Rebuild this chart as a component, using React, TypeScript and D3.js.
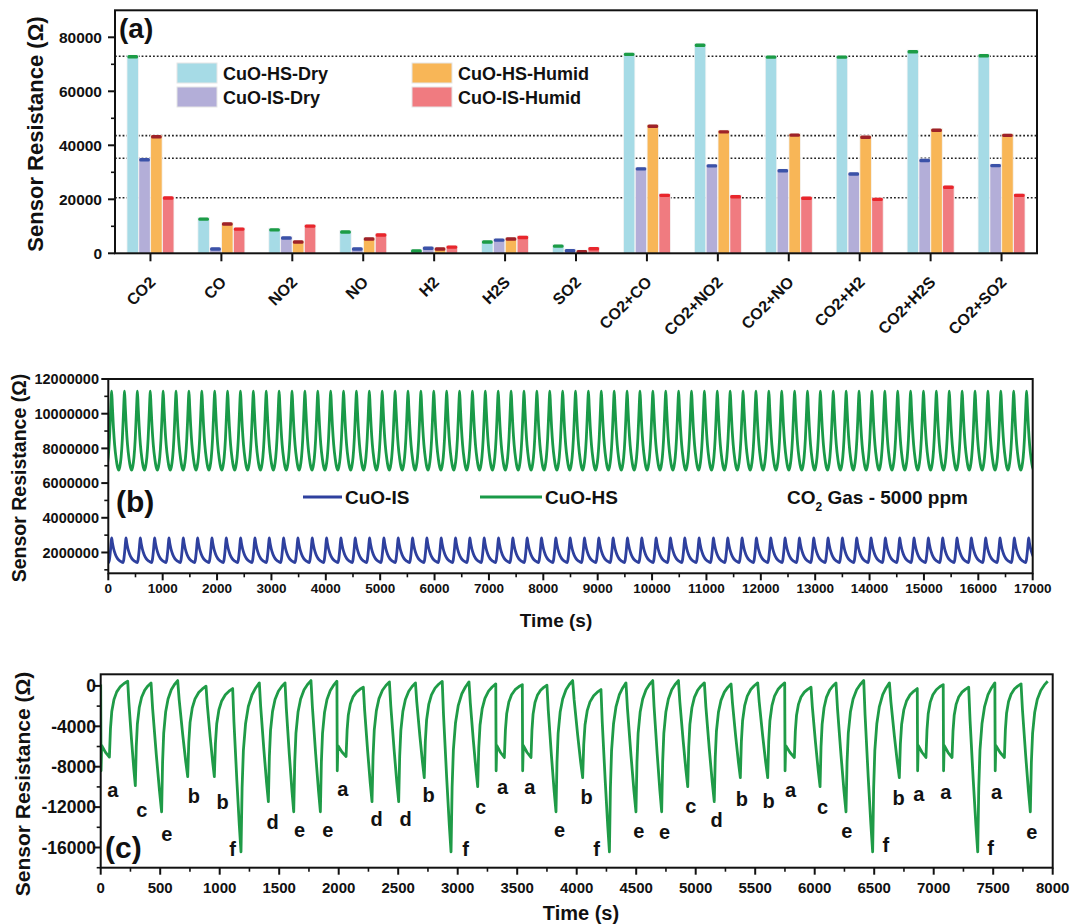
import React from 'react';
import * as d3 from 'd3';

const FONT = "'Liberation Sans', Arial, Helvetica, sans-serif";

// ---------------- Panel (a) data ----------------
const gases = ['CO2', 'CO', 'NO2', 'NO', 'H2', 'H2S', 'SO2', 'CO2+CO', 'CO2+NO2', 'CO2+NO', 'CO2+H2', 'CO2+H2S', 'CO2+SO2'];
const seriesNames = ['CuO-HS-Dry', 'CuO-IS-Dry', 'CuO-HS-Humid', 'CuO-IS-Humid'];
const hsDry = [73400, 13300, 9300, 8500, 1500, 4800, 3300, 74300, 77700, 73300, 73300, 75300, 73800];
const isDry = [35300, 2200, 6300, 2200, 2500, 5500, 1600, 31900, 33000, 31200, 30000, 35000, 33100];
const hsHumid = [43800, 11500, 4800, 5900, 2200, 5900, 1200, 47700, 45600, 44400, 43600, 46200, 44300];
const isHumid = [21100, 9600, 10700, 7400, 2900, 6500, 2300, 22100, 21600, 21000, 20600, 25100, 22100];
const refLevels = [73000, 43600, 35200, 20600];
const aYTicks = [0, 20000, 40000, 60000, 80000];
const aYMinor = [10000, 30000, 50000, 70000];

const barColors = ['#A6DBE6', '#B3AED8', '#F8B657', '#F07B80'];
const capColors = ['#1C9C46', '#3B52A8', '#9E2229', '#E8262C'];

// ---------------- Panel (b) data ----------------
const bXTicks = [0, 1000, 2000, 3000, 4000, 5000, 6000, 7000, 8000, 9000, 10000, 11000, 12000, 13000, 14000, 15000, 16000, 17000];
const bYTicks = [2000000, 4000000, 6000000, 8000000, 10000000, 12000000];
// CuO-HS (green) and CuO-IS (blue) cyclic responses, CO2 5000 ppm
const hsLow = 6750000;
const hsHigh = 11300000;
const isLow = 1420000;
const isHigh = 2840000;
const hsFirstPeak = 62;
const hsPeriod = 237;
const isFirstPeak = 62;
const isPeriod = 263.5;
// one response cycle: [phase, normalised level]
const hsCycleShape = [[0, 0], [0.08, 0.04], [0.18, 0.16], [0.28, 0.4], [0.36, 0.7], [0.42, 0.93], [0.45, 1], [0.5, 0.82], [0.58, 0.56], [0.68, 0.32], [0.8, 0.14], [0.9, 0.04], [1, 0]];
const isCycleShape = [[0, 0], [0.05, 0.1], [0.12, 0.45], [0.18, 0.85], [0.21, 1], [0.26, 0.8], [0.35, 0.55], [0.47, 0.33], [0.62, 0.16], [0.8, 0.06], [1, 0]];

// ---------------- Panel (c) data ----------------
const cXTicks = [0, 500, 1000, 1500, 2000, 2500, 3000, 3500, 4000, 4500, 5000, 5500, 6000, 6500, 7000, 7500, 8000];
const cYTicks = [0, -4000, -8000, -12000, -16000];
const cTypes = ['a', 'c', 'e', 'b', 'b', 'f', 'd', 'e', 'e', 'a', 'd', 'd', 'b', 'f', 'c', 'a', 'a', 'e', 'b', 'f', 'e', 'e', 'c', 'd', 'b', 'b', 'a', 'c', 'e', 'f', 'b', 'a', 'a', 'f', 'a', 'e'];
const cStart = [0, 227, 423, 647, 885, 1109, 1333, 1549, 1767, 1985, 2207, 2426, 2645, 2870, 3095, 3320, 3543, 3750, 3966, 4204, 4414, 4639, 4855, 5073, 5297, 5521, 5748, 5969, 6179, 6412, 6628, 6862, 7080, 7294, 7514, 7734];
const cMinTime = [73, 291, 512, 731, 955, 1179, 1409, 1622, 1846, 2062, 2280, 2504, 2719, 2944, 3168, 3392, 3616, 3826, 4050, 4275, 4498, 4714, 4933, 5156, 5375, 5605, 5829, 6045, 6263, 6487, 6711, 6935, 7154, 7370, 7594, 7812];
const cMin = [-7050, -9870, -12460, -8980, -8980, -16430, -11460, -12460, -12460, -6990, -11460, -11460, -9080, -16430, -9970, -7090, -7090, -12460, -9080, -16430, -12460, -12460, -9970, -11460, -9080, -9080, -7090, -9970, -12460, -16430, -9080, -7090, -7090, -16430, -7090, -12460];
const cEndPeak = [460, 300, 530, -30, -265, 300, 300, 530, 460, -130, 400, 300, 450, 400, 200, 130, 70, 530, -360, 300, 530, 530, 300, 200, 300, 300, -130, 300, 530, 300, -265, 130, -130, 300, 200, 460];
const cStartValue = 130;
const cEndTime = 7958;
const aSpikeValue = -8400;
const aReboundValue = -5900;
const fallShape = [[0, 0], [0.15, 0.2], [0.5, 0.56], [0.8, 0.84], [1, 1]];
const riseShape = [[0, 0], [0.06, 0.38], [0.13, 0.6], [0.25, 0.76], [0.4, 0.86], [0.6, 0.93], [0.8, 0.97], [1, 1]];
const cLabelT = [101, 345, 555, 782, 1025, 1109, 1445, 1672, 1908, 2034, 2319, 2563, 2756, 3067, 3193, 3378, 3605, 3857, 4084, 4168, 4521, 4739, 4958, 5176, 5387, 5613, 5798, 6067, 6269, 6597, 6706, 6874, 7101, 7479, 7529, 7824];
const cLabelV = [-10335, -12224, -14609, -10832, -11429, -16100, -13416, -14211, -14211, -10236, -13118, -13118, -10733, -16100, -11926, -10037, -10037, -14211, -10932, -16100, -14311, -14410, -11826, -13217, -11131, -11330, -10335, -11926, -14311, -15702, -11031, -10634, -10534, -16000, -10534, -14410];

function buildCycles(shape: number[][], first: number, period: number, lo: number, hi: number, t0: number, t1: number) {
  let peakPhase = 0;
  let best = -1;
  shape.forEach(([p, l]) => { if (l > best) { best = l; peakPhase = p; } });
  const pts: [number, number][] = [];
  const kStart = Math.floor((t0 - first) / period) - 1;
  const kEnd = Math.ceil((t1 - first) / period) + 1;
  for (let k = kStart; k <= kEnd; k++) {
    const base = first + k * period - peakPhase * period;
    shape.forEach(([p, l], j) => {
      if (j === 0 && k !== kStart) return;
      pts.push([base + p * period, lo + l * (hi - lo)]);
    });
  }
  return pts;
}

function buildC() {
  const pts: [number, number][] = [];
  for (let i = 0; i < cTypes.length; i++) {
    const t0 = cStart[i];
    const p0 = i === 0 ? cStartValue : cEndPeak[i - 1];
    const tm = cMinTime[i];
    const vm = cMin[i];
    const tEnd = i < cTypes.length - 1 ? cStart[i + 1] : cEndTime;
    const pEnd = cEndPeak[i];
    pts.push([t0, p0]);
    if (cTypes[i] === 'a') {
      pts.push([t0 + 3, aSpikeValue]);
      pts.push([t0 + 8, aReboundValue]);
      pts.push([t0 + 8 + (tm - t0 - 8) * 0.5, (aReboundValue + vm) / 2 - 100]);
      pts.push([tm, vm]);
    } else {
      fallShape.forEach(([u, f], j) => {
        if (j === 0) return;
        pts.push([t0 + u * (tm - t0), p0 + f * (vm - p0)]);
      });
    }
    riseShape.forEach(([u, f], j) => {
      if (j === 0 || j === riseShape.length - 1) return;
      pts.push([tm + u * (tEnd - tm), vm + f * (pEnd - vm)]);
    });
  }
  pts.push([cEndTime, cEndPeak[cEndPeak.length - 1]]);
  return pts;
}

const bold = { fontFamily: FONT, fontWeight: 700 as const };

export default function App() {
  // ----- panel (a) -----
  const aL = 115, aR = 1037, aT = 10.3, aB = 253.3;
  const aX = d3.scaleBand<string>().domain(gases).range([aL, aR]).padding(0);
  const aY = d3.scaleLinear().domain([0, 90000]).range([aB, aT]);
  const groupW = 47;
  const aSub = d3.scaleBand<number>().domain([0, 1, 2, 3]).range([0, groupW]).paddingInner(0.03);
  const series = [hsDry, isDry, hsHumid, isHumid];

  // ----- panel (b) -----
  const bL = 108.3, bR = 1032.7, bT = 379, bB = 573.3;
  const bX = d3.scaleLinear().domain([0, 17000]).range([bL, bR]);
  const bY = d3.scaleLinear().domain([800000, 12000000]).range([bB, bT]);
  const bLine = d3.line<[number, number]>().x(d => bX(d[0])).y(d => bY(d[1])).curve(d3.curveMonotoneX);
  const hsPts = buildCycles(hsCycleShape, hsFirstPeak, hsPeriod, hsLow, hsHigh, 0, 17000);
  const isPts = buildCycles(isCycleShape, isFirstPeak, isPeriod, isLow, isHigh, 0, 17000);

  // ----- panel (c) -----
  const cL = 100.7, cR = 1052.7, cT = 674.3, cB = 867.7;
  const cX = d3.scaleLinear().domain([0, 8000]).range([cL, cR]);
  const cY = d3.scaleLinear().domain([-18000, 1150]).range([cB, cT]);
  const cLine = d3.line<[number, number]>().x(d => cX(d[0])).y(d => cY(d[1]));
  const cPts = buildC();

  const frame = (x0: number, y0: number, x1: number, y1: number) => (
    <rect x={x0} y={y0} width={x1 - x0} height={y1 - y0} fill="none" stroke="#111" strokeWidth={2} />
  );

  const legendA = [
    { x: 177, y: 63, i: 0 },
    { x: 177, y: 87, i: 1 },
    { x: 412, y: 63, i: 2 },
    { x: 412, y: 87, i: 3 },
  ];

  return (
    <svg width={1070} height={924} style={{ position: 'absolute', left: 0, top: 0, background: '#fff' }}>
      <defs>
        <clipPath id="clipB"><rect x={bL} y={bT} width={bR - bL} height={bB - bT} /></clipPath>
        <clipPath id="clipC"><rect x={cL} y={cT} width={cR - cL} height={cB - cT} /></clipPath>
      </defs>
      <rect x={0} y={0} width={1070} height={924} fill="#fff" />

      {/* ================= Panel (a) ================= */}
      <g>
        {refLevels.map((v, i) => (
          <line key={'rl' + i} x1={aL} x2={aR} y1={aY(v)} y2={aY(v)} stroke="#222" strokeWidth={1.6} strokeDasharray="1.8 2" />
        ))}
        {gases.map((g, gi) => {
          const gx = (aX(g) as number) + (aX.bandwidth() - groupW) / 2;
          return (
            <g key={g}>
              {series.map((s, si) => {
                const x = gx + (aSub(si) as number);
                const w = aSub.bandwidth();
                const y = aY(s[gi]);
                return (
                  <g key={si}>
                    <rect x={x} y={y} width={w} height={aB - y} fill={barColors[si]} stroke="#f4f4f4" strokeWidth={0.8} />
                    <rect x={x + 0.4} y={y} width={w - 0.8} height={3.4} rx={1.5} fill={capColors[si]} />
                  </g>
                );
              })}
            </g>
          );
        })}
        {frame(aL, aT, aR, aB)}
        {aYTicks.map(v => (
          <g key={'ay' + v}>
            <line x1={aL - 7} x2={aL} y1={aY(v)} y2={aY(v)} stroke="#111" strokeWidth={2} />
            <text x={102} y={aY(v)} dy="0.36em" textAnchor="end" fontSize={15.5} style={bold} fill="#111">{v}</text>
          </g>
        ))}
        {aYMinor.map(v => (
          <line key={'aym' + v} x1={aL - 4} x2={aL} y1={aY(v)} y2={aY(v)} stroke="#111" strokeWidth={1.6} />
        ))}
        {gases.map(g => {
          const cx = (aX(g) as number) + aX.bandwidth() / 2;
          return (
            <g key={'ax' + g}>
              <line x1={cx} x2={cx} y1={aB} y2={aB + 8} stroke="#111" strokeWidth={2} />
              <text transform={`translate(${cx + 6},${aB + 30}) rotate(-45)`} textAnchor="end" fontSize={16} style={bold} fill="#111">{g}</text>
            </g>
          );
        })}
        <text transform={`translate(43,134) rotate(-90)`} textAnchor="middle" fontSize={22} style={bold} fill="#111">Sensor Resistance (Ω)</text>
        <text x={119} y={38} fontSize={28} style={bold} fill="#111">(a)</text>
        {legendA.map(l => (
          <g key={'lg' + l.i}>
            <rect x={l.x} y={l.y} width={40} height={20} fill={barColors[l.i]} stroke="#e6e6e6" strokeWidth={1} />
            <text x={l.x + 46} y={l.y + 17} fontSize={18} style={bold} fill="#111">{seriesNames[l.i]}</text>
          </g>
        ))}
      </g>

      {/* ================= Panel (b) ================= */}
      <g>
        <g clipPath="url(#clipB)">
          <path d={bLine(hsPts) as string} fill="none" stroke="#1A9A48" strokeWidth={2.8} />
          <path d={bLine(isPts) as string} fill="none" stroke="#2E409E" strokeWidth={2.8} />
        </g>
        {frame(bL, bT, bR, bB)}
        {bYTicks.map(v => (
          <g key={'by' + v}>
            <line x1={bL - 7} x2={bL} y1={bY(v)} y2={bY(v)} stroke="#111" strokeWidth={2} />
            <text x={99} y={bY(v)} dy="0.36em" textAnchor="end" fontSize={14.5} style={bold} fill="#111">{v}</text>
          </g>
        ))}
        {bYTicks.map(v => (
          <line key={'bym' + v} x1={bL - 4} x2={bL} y1={bY(v - 1000000)} y2={bY(v - 1000000)} stroke="#111" strokeWidth={1.6} />
        ))}
        {bXTicks.map(v => (
          <g key={'bx' + v}>
            <line x1={bX(v)} x2={bX(v)} y1={bB} y2={bB + 7} stroke="#111" strokeWidth={2} />
            <text x={bX(v)} y={593} textAnchor="middle" fontSize={13.5} style={bold} fill="#111">{v}</text>
          </g>
        ))}
        {bXTicks.slice(0, -1).map(v => (
          <line key={'bxm' + v} x1={bX(v + 500)} x2={bX(v + 500)} y1={bB} y2={bB + 4} stroke="#111" strokeWidth={1.6} />
        ))}
        <text x={556} y={627} textAnchor="middle" fontSize={19} style={bold} fill="#111">Time (s)</text>
        <text transform={`translate(26,478) rotate(-90)`} textAnchor="middle" fontSize={19.5} style={bold} fill="#111">Sensor Resistance (Ω)</text>
        <text x={116} y={512} fontSize={30} style={bold} fill="#111">(b)</text>
        <line x1={303} x2={342} y1={497} y2={497} stroke="#2E409E" strokeWidth={3} />
        <text x={345} y={504} fontSize={19} style={bold} fill="#111">CuO-IS</text>
        <line x1={480} x2={542} y1={497} y2={497} stroke="#1A9A48" strokeWidth={3} />
        <text x={545} y={504} fontSize={19} style={bold} fill="#111">CuO-HS</text>
        <text x={787} y={504} fontSize={19} style={bold} fill="#111">
          CO<tspan fontSize={12} dy={7}>2</tspan><tspan dy={-7}> Gas - 5000 ppm</tspan>
        </text>
      </g>

      {/* ================= Panel (c) ================= */}
      <g>
        <g clipPath="url(#clipC)">
          <path d={cLine(cPts) as string} fill="none" stroke="#1F9B47" strokeWidth={2.8} strokeLinejoin="round" />
        </g>
        {cTypes.map((t, i) => (
          <text key={'cl' + i} x={cX(cLabelT[i])} y={cY(cLabelV[i])} dy="0.36em" textAnchor="middle" fontSize={20} style={bold} fill="#111">{t}</text>
        ))}
        {frame(cL, cT, cR, cB)}
        {cYTicks.map(v => (
          <g key={'cy' + v}>
            <line x1={cL - 7} x2={cL} y1={cY(v)} y2={cY(v)} stroke="#111" strokeWidth={2} />
            <text x={96} y={cY(v)} dy="0.36em" textAnchor="end" fontSize={17.5} style={bold} fill="#111">{v}</text>
          </g>
        ))}
        {cYTicks.map(v => (
          <line key={'cym' + v} x1={cL - 4} x2={cL} y1={cY(v - 2000)} y2={cY(v - 2000)} stroke="#111" strokeWidth={1.6} />
        ))}
        {cXTicks.map(v => (
          <g key={'cx' + v}>
            <line x1={cX(v)} x2={cX(v)} y1={cB} y2={cB + 7} stroke="#111" strokeWidth={2} />
            <text x={cX(v)} y={893} textAnchor="middle" fontSize={15} style={bold} fill="#111">{v}</text>
          </g>
        ))}
        {cXTicks.slice(0, -1).map(v => (
          <line key={'cxm' + v} x1={cX(v + 250)} x2={cX(v + 250)} y1={cB} y2={cB + 4} stroke="#111" strokeWidth={1.6} />
        ))}
        <text x={581} y={920} textAnchor="middle" fontSize={20} style={bold} fill="#111">Time (s)</text>
        <text transform={`translate(30,784) rotate(-90)`} textAnchor="middle" fontSize={21} style={bold} fill="#111">Sensor Resistance (Ω)</text>
        <text x={105} y={858} fontSize={30} style={bold} fill="#111">(c)</text>
      </g>
    </svg>
  );
}
